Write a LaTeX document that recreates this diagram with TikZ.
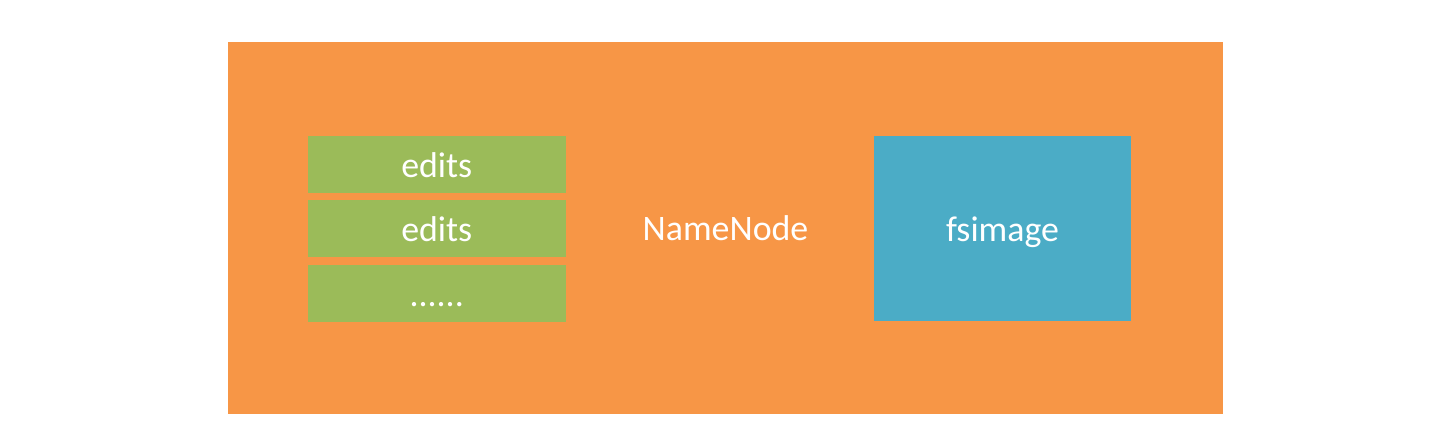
\documentclass[tikz,border=0pt]{standalone}
\usepackage{fontspec}
\setmainfont{Carlito}
\usepackage{tikz}
\usetikzlibrary{positioning}
\definecolor{nnorange}{HTML}{F79646}
\definecolor{editgreen}{HTML}{9BBB59}
\definecolor{imageblue}{HTML}{4BACC6}
\tikzset{
	box/.style={rectangle, inner sep=0pt, text=white, text height=25.5bp, text depth=0pt, font=\fontsize{36}{43}\selectfont},
	editbox/.style={box, fill=editgreen, minimum width=257.5bp, minimum height=57bp}
}

\begin{document}
\begin{tikzpicture}[x=1bp, y=-1bp]
			%%%%% START %%%%%
			
			\useasboundingbox (0, 0) rectangle (1437, 433);
			
			\node[box, fill=nnorange, minimum width=995bp, minimum height=372bp] (namenode) at (725.5, 228) {NameNode};
			
			\node[editbox] (edits1) at (436.75, 164.5) {edits};
			\node[editbox, below=7bp of edits1] (edits2) {edits};
			\node[editbox, below=7bp of edits2] (edits3) {......};
			
			\node[box, fill=imageblue, minimum width=257bp, minimum height=185bp] (fsimage) at (1002.5, 228.5) {fsimage};
			
			%%%%% END %%%%%
		\end{tikzpicture}
\end{document}
